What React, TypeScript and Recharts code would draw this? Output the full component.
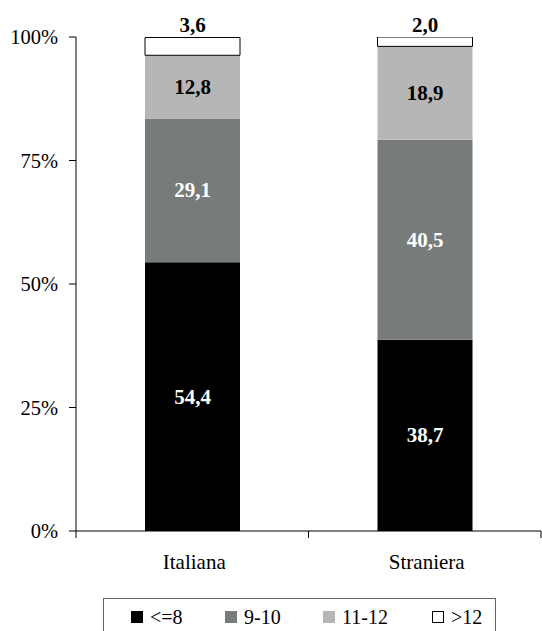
import React from "react";
import { BarChart, Bar, XAxis, YAxis, LabelList } from "recharts";

const categories = ["Italiana", "Straniera"];
const seriesNames = ["<=8", "9-10", "11-12", ">12"];
const le8 = [54.4, 38.7];
const s9_10 = [29.1, 40.5];
const s11_12 = [12.8, 18.9];
const gt12 = [3.6, 2.0];
const yTicks = [0, 25, 50, 75, 100];

const colors = ["#000000", "#777c7a", "#b6b6b6", "#ffffff"];
const labelColors = ["#ffffff", "#ffffff", "#000000", "#000000"];
const keys = ["a", "b", "c", "d"];

const data = categories.map((name, i) => ({
  name,
  a: le8[i],
  b: s9_10[i],
  c: s11_12[i],
  d: gt12[i],
}));

const FONT = "'Liberation Serif', Tinos, serif";
const fmt = (v: number) => v.toFixed(1).replace(".", ",");

const XTick = (props: any) => {
  const { x, y, payload, index } = props;
  const off = payload.offset || 0;
  return (
    <g>
      {index === 0 && <line x1={x - off} x2={x - off} y1={y} y2={y + 7} stroke="#000" />}
      <line x1={x + off} x2={x + off} y1={y} y2={y + 7} stroke="#000" />
      <text x={x + 2} y={y + 38} textAnchor="middle" fontFamily={FONT} style={{ fontFamily: FONT }} fontSize={21} fill="#000">
        {payload.value}
      </text>
    </g>
  );
};

const makeLabel = (si: number) => (props: any) => {
  const { x, y, width, height, value } = props;
  const cx = x + width / 2;
  if (si === 3) {
    return (
      <text x={cx} y={y - 5} textAnchor="middle" fontFamily={FONT} style={{ fontFamily: FONT }} fontWeight="bold" fontSize={21} fill="#000">
        {fmt(value)}
      </text>
    );
  }
  return (
    <text x={cx} y={y + height / 2} dy={7} textAnchor="middle" fontFamily={FONT} style={{ fontFamily: FONT }} fontWeight="bold" fontSize={21} fill={labelColors[si]}>
      {fmt(value)}
    </text>
  );
};

const YTick = (props: any) => {
  const { x, y, payload } = props;
  return (
    <text x={x} y={y} dy={7} textAnchor="end" fontFamily={FONT} style={{ fontFamily: FONT }} fontSize={20.5} fill="#000">
      {payload.value + "%"}
    </text>
  );
};

const LegendBox = () => {
  const pos = [131, 225, 323, 432];
  return (
    <div style={{ position: "absolute", left: 103, top: 598, width: 393, height: 40, border: "1px solid #666", boxSizing: "border-box", background: "#fff" }}>
      {seriesNames.map((n, i) => (
        <div key={n} style={{ position: "absolute", left: pos[i] - 104, top: 6, display: "flex", alignItems: "center", fontFamily: FONT, fontSize: 20, lineHeight: "24px", color: "#000", whiteSpace: "nowrap" }}>
          <span style={{ display: "inline-block", width: 12, height: 12, background: colors[i], border: i === 3 ? "1px solid #000" : "none", boxSizing: "border-box", marginRight: 7 }} />
          <span>{n}</span>
        </div>
      ))}
    </div>
  );
};

export default function App() {
  return (
    <div style={{ position: "fixed", left: 0, top: 0, width: 542, height: 631, background: "#fff", overflow: "hidden" }}>
      <BarChart width={542} height={631} data={data} margin={{ top: 37, right: 1, bottom: 70, left: 0 }} barSize={95}>
        <XAxis dataKey="name" height={30} tickLine={false} tickSize={0} tickMargin={0} axisLine={{ stroke: "#000" }} tick={<XTick />} interval={0} />
        <YAxis
          width={76}
          domain={[0, 100]}
          ticks={yTicks}
          tickSize={7}
          tickMargin={11}
          axisLine={{ stroke: "#000" }}
          tickLine={{ stroke: "#000" }}
          tick={<YTick />}
          allowDataOverflow
        />
        {keys.map((k, i) => (
          <Bar key={k} dataKey={k} name={seriesNames[i]} stackId="s" fill={colors[i]} stroke={i === 3 ? "#000" : "none"} strokeWidth={1} isAnimationActive={false}>
            <LabelList dataKey={k} content={makeLabel(i)} />
          </Bar>
        ))}
      </BarChart>
      <LegendBox />
    </div>
  );
}
